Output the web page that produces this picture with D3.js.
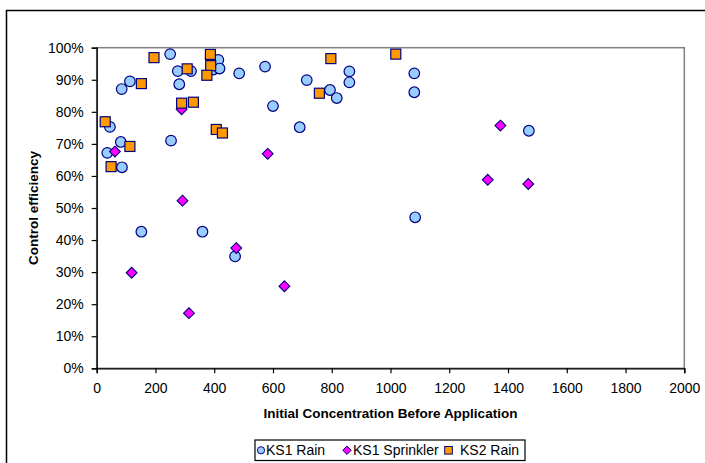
<!DOCTYPE html>
<html>
<head>
<meta charset="utf-8">
<script src="https://cdn.jsdelivr.net/npm/d3@7"></script>
<style>
  html, body { margin: 0; padding: 0; background: #fff; }
  svg { display: block; font-family: "Liberation Sans", Arial, sans-serif; }
</style>
</head>
<body>
<svg id="chart" width="705" height="463"></svg>
<script>
// Initial concentration (x) and control efficiency (y) for each series
const ks1RainX = [250, 85, 113, 276, 321, 281, 414, 397, 418, 485, 573, 715, 794, 817, 860, 860, 1081, 1081, 600, 691, 1084, 1471, 45, 36, 82, 86, 253, 152, 360, 471];
const ks1RainY = [0.980, 0.871, 0.895, 0.927, 0.927, 0.886, 0.962, 0.932, 0.935, 0.920, 0.941, 0.899, 0.868, 0.843, 0.926, 0.892, 0.920, 0.861, 0.818, 0.752, 0.471, 0.741, 0.753, 0.672, 0.706, 0.627, 0.710, 0.426, 0.426, 0.349];

const ks1SprinklerX = [62, 289, 292, 582, 119, 314, 475, 639, 1374, 1331, 1469];
const ks1SprinklerY = [0.676, 0.808, 0.523, 0.669, 0.298, 0.172, 0.375, 0.256, 0.757, 0.588, 0.575];

const ks2RainX = [29, 49, 113, 152, 195, 308, 289, 329, 387, 388, 375, 407, 428, 797, 758, 1018];
const ks2RainY = [0.769, 0.629, 0.692, 0.888, 0.969, 0.934, 0.827, 0.830, 0.979, 0.944, 0.914, 0.745, 0.734, 0.966, 0.858, 0.980];

const xTicks = [0, 200, 400, 600, 800, 1000, 1200, 1400, 1600, 1800, 2000];
const yTicks = [0, 0.1, 0.2, 0.3, 0.4, 0.5, 0.6, 0.7, 0.8, 0.9, 1.0];

const seriesNames = ["KS1 Rain", "KS1 Sprinkler", "KS2 Rain"];

const svg = d3.select("#chart");

// Plot area bounds
const plotLeft = 96.7, plotRight = 684.3, plotTop = 47.7, plotBottom = 368.3;

const x = d3.scaleLinear().domain([0, 2000]).range([plotLeft, plotRight]);
const y = d3.scaleLinear().domain([0, 1]).range([plotBottom, plotTop]);

// Outer chart frame
svg.append("rect")
  .attr("x", 6.5).attr("y", 10.5)
  .attr("width", 720).attr("height", 470)
  .attr("fill", "#fff").attr("stroke", "#000").attr("stroke-width", 1.5);

// Plot area border (grey)
svg.append("rect")
  .attr("x", plotLeft).attr("y", plotTop)
  .attr("width", plotRight - plotLeft).attr("height", plotBottom - plotTop)
  .attr("fill", "none").attr("stroke", "#808080").attr("stroke-width", 1.5);

// Axes
const xAxis = d3.axisBottom(x).tickValues(xTicks).tickSize(5).tickPadding(10).tickFormat(d3.format("d"));
const yAxis = d3.axisLeft(y).tickValues(yTicks).tickSize(5).tickPadding(8).tickFormat(d3.format(".0%"));

const gx = svg.append("g").attr("transform", `translate(0,${plotBottom})`).call(xAxis);
const gy = svg.append("g").attr("transform", `translate(${plotLeft},0)`).call(yAxis);

[gx, gy].forEach(g => {
  g.select(".domain").attr("stroke", "#000").attr("stroke-width", 1.3);
  g.selectAll(".tick line").attr("stroke", "#000").attr("stroke-width", 1.2);
  g.selectAll(".tick text")
    .attr("fill", "#000")
    .style("font-family", "'Liberation Sans', Arial, sans-serif")
    .style("font-size", "14px");
});

// Axis titles
svg.append("text")
  .attr("x", (plotLeft + plotRight) / 2).attr("y", 418)
  .attr("text-anchor", "middle")
  .style("font-size", "13.5px").style("font-weight", "bold")
  .text("Initial Concentration Before Application");

svg.append("text")
  .attr("transform", `translate(38,${(plotTop + plotBottom) / 2}) rotate(-90)`)
  .attr("text-anchor", "middle")
  .style("font-size", "13.5px").style("font-weight", "bold")
  .text("Control efficiency");

const stroke = "#000080";
const colors = { circle: "#99CCFF", diamond: "#FF00FF", square: "#FF9900" };

const zip = (xs, ys) => xs.map((v, i) => ({ x: v, y: ys[i] }));

// KS1 Rain: circles
svg.append("g").selectAll("circle")
  .data(zip(ks1RainX, ks1RainY))
  .join("circle")
  .attr("cx", d => x(d.x)).attr("cy", d => y(d.y))
  .attr("r", 5.3)
  .attr("fill", colors.circle).attr("stroke", stroke).attr("stroke-width", 1.2);

// KS1 Sprinkler: diamonds
const diamond = s => `M0,${-s}L${s},0L0,${s}L${-s},0Z`;
svg.append("g").selectAll("path")
  .data(zip(ks1SprinklerX, ks1SprinklerY))
  .join("path")
  .attr("transform", d => `translate(${x(d.x)},${y(d.y)})`)
  .attr("d", diamond(5.4))
  .attr("fill", colors.diamond).attr("stroke", stroke).attr("stroke-width", 1.1);

// KS2 Rain: squares
svg.append("g").selectAll("rect")
  .data(zip(ks2RainX, ks2RainY))
  .join("rect")
  .attr("x", d => x(d.x) - 5).attr("y", d => y(d.y) - 5)
  .attr("width", 10).attr("height", 10)
  .attr("fill", colors.square).attr("stroke", stroke).attr("stroke-width", 1.2);

// Legend
const legend = svg.append("g");
legend.append("rect")
  .attr("x", 255).attr("y", 440).attr("width", 270).attr("height", 20.5)
  .attr("fill", "#fff").attr("stroke", "#000").attr("stroke-width", 1.2);

const legendItems = [
  { name: seriesNames[0], mx: 261, tx: 266, shape: "circle" },
  { name: seriesNames[1], mx: 347, tx: 353, shape: "diamond" },
  { name: seriesNames[2], mx: 448.5, tx: 460, shape: "square" }
];
const ly = 450.3;
legendItems.forEach(it => {
  if (it.shape === "circle") {
    legend.append("circle").attr("cx", it.mx).attr("cy", ly).attr("r", 3.6)
      .attr("fill", colors.circle).attr("stroke", stroke).attr("stroke-width", 1);
  } else if (it.shape === "diamond") {
    legend.append("path").attr("transform", `translate(${it.mx},${ly})`).attr("d", diamond(4.2))
      .attr("fill", colors.diamond).attr("stroke", stroke).attr("stroke-width", 1);
  } else {
    legend.append("rect").attr("x", it.mx - 3.8).attr("y", ly - 3.8).attr("width", 7.6).attr("height", 7.6)
      .attr("fill", colors.square).attr("stroke", stroke).attr("stroke-width", 1);
  }
  legend.append("text").attr("x", it.tx).attr("y", ly).attr("dy", "0.36em")
    .style("font-size", "14px").text(it.name);
});
</script>
</body>
</html>
